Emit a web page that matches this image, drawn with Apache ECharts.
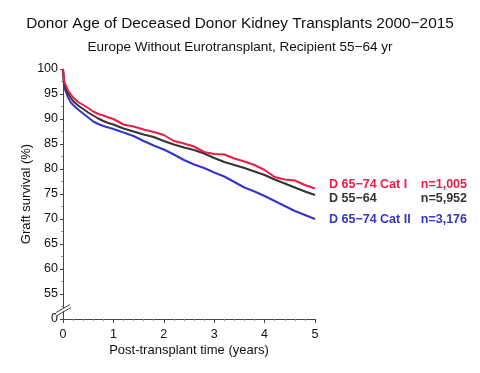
<!DOCTYPE html>
<html><head><meta charset="utf-8">
<script src="https://cdn.jsdelivr.net/npm/echarts@6/dist/echarts.min.js"></script>
<style>html,body{margin:0;padding:0;background:#fff}#c{width:480px;height:373px}</style>
</head><body><div id="c"></div>
<script>
var times = [0, 0.02, 0.05, 0.1, 0.15, 0.2, 0.3, 0.4, 0.5, 0.6, 0.7, 0.8, 0.9, 1.0, 1.2, 1.4, 1.6, 1.8, 2.0, 2.2, 2.4, 2.6, 2.8, 3.0, 3.2, 3.4, 3.6, 3.8, 4.0, 4.2, 4.4, 4.6, 4.8, 5.0];
var catI  = [100, 97.7, 96.8, 95.7, 95.0, 94.3, 93.4, 92.8, 92.2, 91.5, 91.0, 90.7, 90.3, 90.0, 88.9, 88.5, 87.9, 87.4, 86.8, 85.6, 85.1, 84.5, 83.4, 83.0, 82.9, 82.1, 81.5, 80.8, 79.8, 78.4, 77.9, 77.7, 76.8, 76.1];
var d5564 = [100, 97.2, 96.2, 95.1, 94.3, 93.6, 92.7, 92.0, 91.3, 90.7, 90.1, 89.6, 89.2, 88.9, 88.1, 87.5, 86.9, 86.4, 85.6, 84.9, 84.3, 83.8, 83.1, 82.2, 81.4, 80.8, 80.2, 79.5, 78.8, 77.9, 77.1, 76.3, 75.5, 74.8];
var catII = [100, 96.7, 95.6, 94.3, 93.4, 92.8, 91.9, 91.1, 90.3, 89.5, 89.0, 88.6, 88.3, 88.0, 87.3, 86.6, 85.6, 84.7, 83.9, 82.9, 81.8, 80.9, 80.2, 79.3, 78.5, 77.4, 76.3, 75.5, 74.6, 73.6, 72.6, 71.6, 70.8, 70.0];
var seriesNames = ['D 65\u221274 Cat I', 'D 55\u221264', 'D 65\u221274 Cat II'];
var seriesN = ['n=1,005', 'n=5,952', 'n=3,176'];
var seriesColors = ['#f01a44', '#333333', '#3535c8'];
var yTicks = [50, 55, 60, 65, 70, 75, 80, 85, 90, 95, 100];
var yTickLabels = ['0', '55', '60', '65', '70', '75', '80', '85', '90', '95', '100'];

function pairs(v){ return times.map(function(t,i){ return [t, v[i]]; }); }
var values = [catI, d5564, catII];
var chart = echarts.init(document.getElementById('c'), null, {renderer:'canvas'});
var FONT = 'Liberation Sans, Arial, Helvetica, sans-serif';
var option = {
  animation: false,
  backgroundColor: '#fff',
  title: [
    {text: 'Donor Age of Deceased Donor Kidney Transplants 2000\u22122015', left: 'center', top: 11,
     textStyle: {fontFamily: FONT, fontSize: 15.4, fontWeight: 'normal', color: '#111'}},
    {text: 'Europe Without Eurotransplant, Recipient 55\u221264 yr', left: 'center', top: 35,
     textStyle: {fontFamily: FONT, fontSize: 13.5, fontWeight: 'normal', color: '#111'}}
  ],
  grid: {left: 63, right: 165, top: 69, bottom: 54, containLabel: false},
  xAxis: {
    type: 'value', min: 0, max: 5, interval: 1,
    name: 'Post-transplant time (years)', nameLocation: 'middle', nameGap: 25, nameMoveOverlap: false,
    nameTextStyle: {fontFamily: FONT, fontSize: 13, color: '#111'},
    axisLine: {lineStyle: {color: '#444', width: 1}},
    axisTick: {length: 4, lineStyle: {color: '#444'}},
    minorTick: {show: true, splitNumber: 5, length: 2, lineStyle: {color: '#999'}},
    axisLabel: {fontFamily: FONT, fontSize: 12.5, color: '#111', margin: 9},
    splitLine: {show: false}
  },
  yAxis: {
    type: 'value', min: 50, max: 100, interval: 5,
    name: 'Graft survival (%)', nameLocation: 'middle', nameGap: 30, nameMoveOverlap: false,
    nameTextStyle: {fontFamily: FONT, fontSize: 13, color: '#111'},
    axisLine: {show: true, lineStyle: {color: '#444', width: 1}},
    axisTick: {length: 3, lineStyle: {color: '#444'}},
    minorTick: {show: true, splitNumber: 2, length: 2, lineStyle: {color: '#999'}},
    axisLabel: {fontFamily: FONT, fontSize: 12.5, color: '#111', margin: 5,
      formatter: function(v){ var i = yTicks.indexOf(v); return i >= 0 ? yTickLabels[i] : ''; }},
    splitLine: {show: false}
  },
  series: values.map(function(v, i){
    return {type: 'line', name: seriesNames[i], data: pairs(v), showSymbol: false, z: 3 - i,
      lineStyle: {color: seriesColors[i], width: 2}, itemStyle: {color: seriesColors[i]}};
  })
};
chart.setOption(option);

// legend labels at right and axis break marks
var labelY = [185, 199, 220];
var g = [];
labelY.forEach(function(y, i){
  g.push({type: 'text', left: 329, top: y - 7, style: {text: seriesNames[i], fill: seriesColors[i], font: 'bold 12.5px ' + FONT}});
  g.push({type: 'text', right: 13, top: y - 7, style: {text: seriesN[i], fill: seriesColors[i], font: 'bold 12.5px ' + FONT}});
});
var p55 = chart.convertToPixel({gridIndex: 0}, [0, 55]);
var p50 = chart.convertToPixel({gridIndex: 0}, [0, 50]);
var ax = p50[0], yb = (p55[1] + p50[1]) / 2 + 2;
g.push({type: 'polygon', shape: {points: [[ax - 7, yb + 4], [ax + 7, yb - 4], [ax + 7, yb - 1], [ax - 7, yb + 7]]}, style: {fill: '#fff'}, z: 100});
g.push({type: 'line', shape: {x1: ax - 7, y1: yb + 4, x2: ax + 7, y2: yb - 4}, style: {stroke: '#444', lineWidth: 1}, z: 101});
g.push({type: 'line', shape: {x1: ax - 6, y1: yb + 7, x2: ax + 8, y2: yb - 1}, style: {stroke: '#444', lineWidth: 1}, z: 101});
chart.setOption({graphic: g});
</script></body></html>
